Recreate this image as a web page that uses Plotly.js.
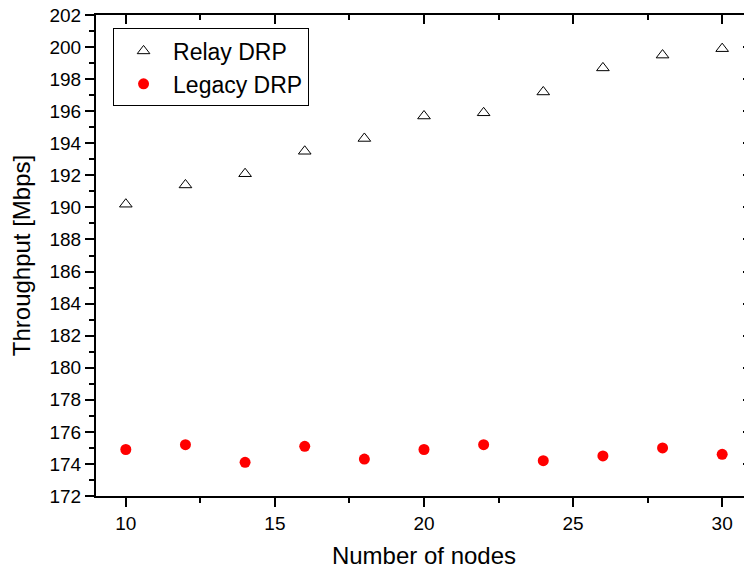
<!DOCTYPE html>
<html>
<head>
<meta charset="utf-8">
<script src="https://cdn.plot.ly/plotly-3.0.1.min.js"></script>
<style>
html,body{margin:0;padding:0;overflow:hidden;background:#fff;}
#chart{width:760px;height:569px;}
</style>
</head>
<body>
<div id="chart"></div>
<script>
const nodes = [10, 12, 14, 16, 18, 20, 22, 24, 26, 28, 30];
const relayDRP = [190.2, 191.4, 192.1, 193.5, 194.3, 195.7, 195.9, 197.2, 198.7, 199.5, 199.9];
const legacyDRP = [174.9, 175.2, 174.1, 175.1, 174.3, 174.9, 175.2, 174.2, 174.5, 175.0, 174.6];
const seriesNames = ["Relay DRP", "Legacy DRP"];
const xTitle = "Number of nodes";
const yTitle = "Throughput [Mbps]";

const FONT = "Arial, 'Liberation Sans', sans-serif";

const traces = [
  {
    x: nodes, y: relayDRP, name: seriesNames[0], type: "scatter", mode: "markers",
    marker: {symbol: "triangle-up-open", size: 11, color: "#000", line: {width: 1, color: "#000"}}
  },
  {
    x: nodes, y: legacyDRP, name: seriesNames[1], type: "scatter", mode: "markers",
    marker: {symbol: "circle", size: 11, color: "#ff0000"}
  },
  {
    x: [null], y: [null], xaxis: "x2", yaxis: "y2", showlegend: false,
    hoverinfo: "skip", mode: "markers"
  }
];

const layout = {
  width: 760, height: 569,
  margin: {l: 96, r: 8, t: 15, b: 73},
  paper_bgcolor: "#fff", plot_bgcolor: "#fff",
  font: {family: FONT, size: 19, color: "#000"},
  showlegend: true,
  legend: {
    x: 0.026, y: 0.972, xanchor: "left", yanchor: "top",
    bordercolor: "#000", borderwidth: 1, bgcolor: "#fff",
    font: {family: FONT, size: 23, color: "#000"},
    traceorder: "normal", itemwidth: 49
  },
  xaxis: {
    range: [9, 31], dtick: 5, tick0: 10,
    showgrid: false, zeroline: false,
    showline: true, linecolor: "#000", linewidth: 2,
    ticks: "outside", ticklen: 9, tickwidth: 2, tickcolor: "#000",
    minor: {dtick: 2.5, tick0: 10, ticks: "outside", ticklen: 5, tickwidth: 2, tickcolor: "#000", showgrid: false},
    tickfont: {family: FONT, size: 19},
    title: {text: xTitle, font: {family: FONT, size: 24}, standoff: 18}
  },
  yaxis: {
    range: [172, 202], dtick: 2, tick0: 172,
    showgrid: false, zeroline: false,
    showline: true, linecolor: "#000", linewidth: 2,
    ticks: "outside", ticklen: 9, tickwidth: 2, tickcolor: "#000",
    minor: {dtick: 1, ticks: "outside", ticklen: 5, tickwidth: 2, tickcolor: "#000", showgrid: false},
    tickfont: {family: FONT, size: 19},
    title: {text: yTitle, font: {family: FONT, size: 24}, standoff: 12}
  },
  xaxis2: {
    overlaying: "x", side: "top", anchor: "y2", matches: "x",
    range: [9, 31], dtick: 5, tick0: 10,
    showgrid: false, zeroline: false, showticklabels: false,
    showline: true, linecolor: "#000", linewidth: 2,
    ticks: "inside", ticklen: 9, tickwidth: 2, tickcolor: "#000",
    minor: {dtick: 2.5, tick0: 10, ticks: "inside", ticklen: 5, tickwidth: 2, tickcolor: "#000", showgrid: false}
  },
  yaxis2: {
    overlaying: "y", side: "right", anchor: "x2", matches: "y",
    range: [172, 202], dtick: 2, tick0: 172,
    showgrid: false, zeroline: false, showticklabels: false,
    showline: true, linecolor: "#000", linewidth: 2,
    ticks: "inside", ticklen: 9, tickwidth: 2, tickcolor: "#000",
    minor: {dtick: 1, ticks: "inside", ticklen: 5, tickwidth: 2, tickcolor: "#000", showgrid: false}
  }
};

Plotly.newPlot("chart", traces, layout, {displayModeBar: false, staticPlot: true});
</script>
</body>
</html>
